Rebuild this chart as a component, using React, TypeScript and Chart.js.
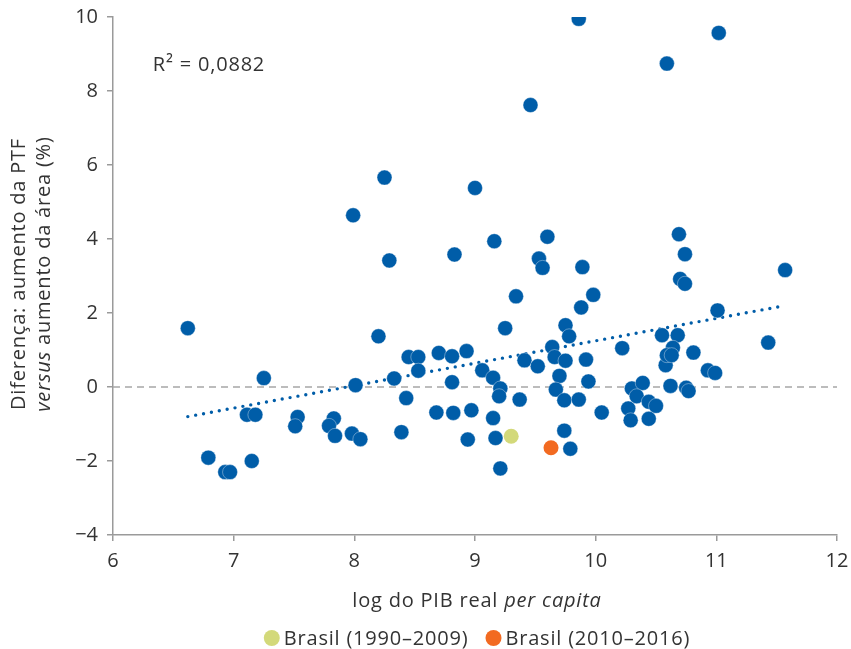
import React, { useEffect, useRef } from "react";
import { Chart, registerables } from "chart.js";

Chart.register(...registerables);

const FONT = '"Open Sans", "Noto Sans", sans-serif';
const TEXT = "#333333";
const BLUE = "#005DA8";
const YELLOW = "#D3D97A";
const ORANGE = "#F26A21";
const AXIS = "#9a9a9a";
const FS = 20;
const LS = "0.8px";

// Countries: log real GDP per capita (x) vs difference TFP growth - area growth (y)
const countryX = [
  9.86, 11.02, 10.59, 9.46, 8.25, 9.0, 7.99, 8.29, 8.83, 9.16, 9.6, 9.53, 9.56, 9.89, 10.69, 10.74, 11.57,
  10.7, 10.74, 9.34, 9.98, 9.88, 9.25, 9.75, 9.78, 10.55, 10.68, 10.22, 9.64, 9.66, 9.75, 9.92, 9.41, 9.52,
  8.45, 8.53, 8.53, 8.7, 8.81, 8.93, 8.33, 8.81, 9.06, 9.15, 9.21, 9.2, 9.7, 9.94, 9.67, 9.74, 9.86, 9.37,
  8.43, 10.05, 8.68, 8.82, 8.97, 9.15, 8.39, 8.94, 9.17, 9.74, 9.79, 9.21, 10.3, 10.39, 10.34, 10.44, 10.5,
  10.27, 10.29, 10.44, 10.62, 10.58, 10.64, 10.59, 10.63, 10.81, 10.93, 10.99, 10.75, 10.77, 11.01, 11.43,
  6.62, 8.2, 7.25, 8.01, 7.11, 7.18, 7.53, 7.51, 7.83, 7.79, 7.84, 7.98, 8.05, 6.79, 6.93, 6.97, 7.15,
];
const countryY = [
  9.95, 9.57, 8.74, 7.62, 5.66, 5.38, 4.64, 3.42, 3.58, 3.94, 4.06, 3.47, 3.22, 3.24, 4.13, 3.59, 3.16,
  2.92, 2.79, 2.45, 2.49, 2.15, 1.59, 1.67, 1.37, 1.4, 1.4, 1.05, 1.08, 0.81, 0.71, 0.74, 0.72, 0.56,
  0.81, 0.81, 0.44, 0.92, 0.83, 0.97, 0.23, 0.13, 0.45, 0.25, -0.04, -0.25, 0.3, 0.15, -0.07, -0.36, -0.34, -0.34,
  -0.3, -0.69, -0.69, -0.7, -0.63, -0.84, -1.22, -1.42, -1.38, -1.18, -1.67, -2.2, -0.04, 0.11, -0.25, -0.4, -0.51,
  -0.58, -0.9, -0.86, 0.03, 0.59, 1.06, 0.86, 0.86, 0.93, 0.45, 0.38, -0.02, -0.11, 2.07, 1.2,
  1.59, 1.37, 0.24, 0.05, -0.75, -0.75, -0.81, -1.06, -0.85, -1.05, -1.32, -1.26, -1.41, -1.91, -2.3, -2.3, -2.0,
];

const brasil1X = [9.3];
const brasil1Y = [-1.33];
const brasil2X = [9.63];
const brasil2Y = [-1.64];

const trendX = [6.62, 11.57];
const trendY = [-0.8, 2.2];

const zeroX = [6, 12];
const zeroY = [0, 0];

const xTicks = [6, 7, 8, 9, 10, 11, 12];
const yTicks = [-4, -2, 0, 2, 4, 6, 8, 10];

const legendLabels = ["Brasil (1990–2009)", "Brasil (2010–2016)"];
const r2Label = "R² = 0,0882";

const toPts = (xs: number[], ys: number[]) => xs.map((x, i) => ({ x, y: ys[i] }));

const textPlugin = {
  id: "customTexts",
  afterDraw(chart: any) {
    const ctx = chart.ctx as any;
    const { left, right } = chart.chartArea;
    const xs = chart.scales.x;
    ctx.save();
    ctx.fillStyle = TEXT;
    ctx.textBaseline = "alphabetic";
    ctx.letterSpacing = LS;

    // R² annotation
    ctx.font = `${FS}px ${FONT}`;
    ctx.textAlign = "left";
    ctx.fillText(r2Label, xs.getPixelForValue(6.33), 71);

    // x axis title (mixed styles)
    const p1 = "log do PIB real ";
    const p2 = "per capita";
    ctx.font = `${FS}px ${FONT}`;
    const w1 = ctx.measureText(p1).width;
    ctx.font = `italic ${FS}px ${FONT}`;
    const w2 = ctx.measureText(p2).width;
    const cx = (left + right) / 2 + 2;
    const sx = cx - (w1 + w2) / 2;
    ctx.font = `${FS}px ${FONT}`;
    ctx.fillText(p1, sx, 607);
    ctx.font = `italic ${FS}px ${FONT}`;
    ctx.fillText(p2, sx + w1, 607);

    // y axis title, two lines rotated
    ctx.save();
    ctx.translate(0, 274);
    ctx.rotate(-Math.PI / 2);
    ctx.textAlign = "center";
    ctx.font = `${FS}px ${FONT}`;
    ctx.fillText("Diferença: aumento da PTF", 0, 25);
    const q1 = "versus";
    const q2 = " aumento da área (%)";
    ctx.font = `italic ${FS}px ${FONT}`;
    const v1 = ctx.measureText(q1).width;
    ctx.font = `${FS}px ${FONT}`;
    const v2 = ctx.measureText(q2).width;
    ctx.textAlign = "left";
    const sy = -(v1 + v2) / 2;
    ctx.font = `italic ${FS}px ${FONT}`;
    ctx.fillText(q1, sy, 50);
    ctx.font = `${FS}px ${FONT}`;
    ctx.fillText(q2, sy + v1, 50);
    ctx.restore();

    // legend
    ctx.font = `${FS}px ${FONT}`;
    ctx.textAlign = "left";
    const colors = [YELLOW, ORANGE];
    const r = 8;
    const gapCircleText = 12;
    const gapItems = 25;
    const widths = legendLabels.map((l) => ctx.measureText(l).width);
    const total = r + gapCircleText + widths[0] + gapItems + gapCircleText + widths[1];
    let lx = (left + right) / 2 + 2 - total / 2 + r;
    legendLabels.forEach((lab, i) => {
      ctx.beginPath();
      ctx.arc(lx, 638, r, 0, Math.PI * 2);
      ctx.fillStyle = colors[i];
      ctx.fill();
      ctx.fillStyle = TEXT;
      ctx.fillText(lab, lx + gapCircleText, 645);
      lx += gapCircleText + widths[i] + gapItems;
    });
    ctx.restore();
  },
};

export default function App() {
  const ref = useRef<HTMLCanvasElement | null>(null);
  useEffect(() => {
    if (!ref.current) return;
    const chart = new Chart(ref.current, {
      type: "scatter",
      data: {
        datasets: [
          {
            type: "scatter",
            label: legendLabels[1],
            data: toPts(brasil2X, brasil2Y),
            backgroundColor: ORANGE,
            borderWidth: 0,
            pointRadius: 7.5,
            order: 0,
          },
          {
            type: "scatter",
            label: legendLabels[0],
            data: toPts(brasil1X, brasil1Y),
            backgroundColor: YELLOW,
            borderWidth: 0,
            pointRadius: 7.5,
            order: 1,
          },
          {
            type: "scatter",
            label: "Países",
            data: toPts(countryX, countryY),
            backgroundColor: BLUE,
            borderColor: "rgba(255,255,255,0.6)",
            borderWidth: 0.6,
            pointRadius: 7.5,
            order: 2,
          },
          {
            type: "line",
            label: "Tendência",
            data: toPts(trendX, trendY),
            borderColor: BLUE,
            borderWidth: 3.4,
            borderDash: [0, 8],
            borderCapStyle: "round",
            pointRadius: 0,
            fill: false,
            order: 3,
          } as any,
          {
            type: "line",
            label: "Zero",
            data: toPts(zeroX, zeroY),
            borderColor: "#a6a6a6",
            borderWidth: 1.5,
            borderDash: [7, 5],
            pointRadius: 0,
            fill: false,
            order: 4,
          } as any,
        ],
      },
      options: {
        animation: false,
        responsive: false,
        maintainAspectRatio: false,
        layout: { padding: { top: 17, right: 14, left: 0, bottom: 0 } },
        plugins: {
          legend: { display: false },
          tooltip: { enabled: false },
          title: { display: false },
        },
        scales: {
          x: {
            type: "linear",
            min: 6,
            max: 12,
            afterFit: (s: any) => {
              s.height = 114;
              s.paddingLeft = 0;
              s.paddingRight = 0;
            },
            afterBuildTicks: (s: any) => {
              s.ticks = xTicks.map((v) => ({ value: v }));
            },
            grid: {
              display: true,
              drawOnChartArea: false,
              drawTicks: true,
              tickLength: 6,
              color: AXIS,
              lineWidth: 1.5,
            },
            border: { display: true, color: AXIS, width: 1.5 },
            ticks: {
              color: TEXT,
              font: { family: FONT, size: FS },
              padding: 8,
              maxRotation: 0,
            },
          },
          y: {
            type: "linear",
            min: -4,
            max: 10,
            afterFit: (s: any) => {
              s.width = 113;
              s.paddingTop = 0;
              s.paddingBottom = 0;
            },
            afterBuildTicks: (s: any) => {
              s.ticks = yTicks.map((v) => ({ value: v }));
            },
            grid: {
              display: true,
              drawOnChartArea: false,
              drawTicks: true,
              tickLength: 6,
              color: AXIS,
              lineWidth: 1.5,
            },
            border: { display: true, color: AXIS, width: 1.5 },
            ticks: {
              color: TEXT,
              font: { family: FONT, size: FS },
              padding: 9,
              callback: (v: any) => (Number(v) < 0 ? "−" + Math.abs(Number(v)) : String(v)),
            },
          },
        },
      },
      plugins: [textPlugin],
    });
    return () => chart.destroy();
  }, []);

  return (
    <div style={{ position: "fixed", left: 0, top: 0, width: 851, height: 649, background: "#fff" }}>
      <canvas ref={ref} width={851} height={649} style={{ display: "block", width: 851, height: 649 }} />
    </div>
  );
}
